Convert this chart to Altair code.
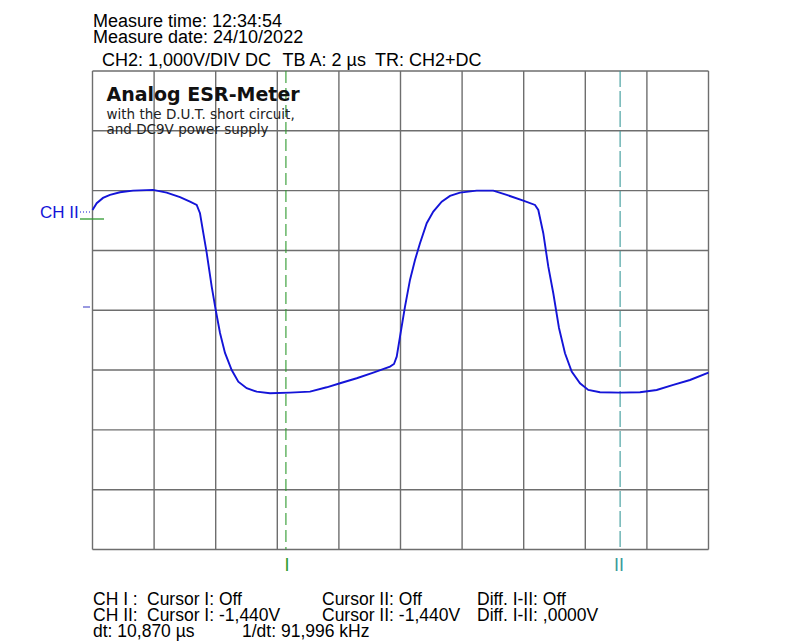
import altair as alt
import pandas as pd

# ---- data (time in µs, voltage in V; 2 µs/div, 1 V/div) ----
trace_t = [0.0, 0.136, 0.341, 0.568, 0.893, 1.315, 1.964, 2.409, 2.841, 3.166, 3.383, 3.490,
           3.597, 3.708, 3.870, 4.000, 4.140, 4.302, 4.519, 4.734, 5.006, 5.331, 5.763, 6.412,
           7.062, 7.604, 8.036, 8.578, 9.117, 9.659, 9.789, 9.877, 9.984, 10.146, 10.308, 10.471,
           10.633, 10.851, 11.065, 11.338, 11.607, 11.932, 12.474, 13.013, 13.448, 13.987, 14.367,
           14.474, 14.636, 14.799, 14.961, 15.146, 15.341, 15.558, 15.828, 16.097, 16.477, 17.127,
           17.776, 18.318, 18.857, 19.399, 20.0]
trace_v = [1.677, 1.789, 1.878, 1.928, 1.973, 2.000, 2.012, 1.967, 1.890, 1.816, 1.761, 1.622,
           1.293, 0.958, 0.395, 0.005, -0.380, -0.714, -0.999, -1.194, -1.304, -1.361, -1.388, -1.378,
           -1.361, -1.288, -1.221, -1.137, -1.043, -0.943, -0.898, -0.776, -0.441, 0.060, 0.507, 0.841,
           1.120, 1.455, 1.649, 1.816, 1.911, 1.967, 2.000, 2.000, 1.928, 1.833, 1.761,
           1.677, 1.288, 0.729, 0.284, -0.296, -0.719, -1.027, -1.221, -1.333, -1.371, -1.378,
           -1.371, -1.333, -1.249, -1.166, -1.043]

grid_x = [0, 2, 4, 6, 8, 10, 12, 14, 16, 18, 20]
grid_y = [-4, -3, -2, -1, 0, 1, 2, 3, 4]
cursor_t = [6.28, 17.13]
cursor_names = ["I", "II"]

header_lines = ["Measure time: 12:34:54", "Measure date: 24/10/2022"]
settings = ["CH2: 1,000V/DIV DC", "TB A: 2 µs", "TR: CH2+DC"]
title_lines = ["Analog ESR-Meter", "with the D.U.T. short circuit,", "and DC9V power supply"]
footer_rows = [
    ["CH I :", "Cursor I: Off", "Cursor II: Off", "Diff. I-II: Off"],
    ["CH II:", "Cursor I: -1,440V", "Cursor II: -1,440V", "Diff. I-II: ,0000V"],
]
footer_last = ["dt: 10,870 µs", "1/dt: 91,996 kHz"]

# ---- styling ----
GRID = "#6e6e6e"
BLUE = "#1414d8"
GREEN = "#2f9a2f"
TEAL = "#3a9a9a"
SANS = "Liberation Sans"

xs = alt.Scale(domain=[0, 20], nice=False, zero=False)
ys = alt.Scale(domain=[-4, 4], nice=False, zero=False)

df_trace = pd.DataFrame({"t": trace_t, "v": trace_v})
one = pd.DataFrame({"k": [0]})

gx = alt.Chart(pd.DataFrame({"gx": grid_x})).mark_rule(color=GRID, strokeWidth=1.4).encode(
    x=alt.X("gx:Q", scale=xs, axis=None))
gy = alt.Chart(pd.DataFrame({"gy": grid_y})).mark_rule(color=GRID, strokeWidth=1.4).encode(
    y=alt.Y("gy:Q", scale=ys, axis=None))

cur1 = alt.Chart(pd.DataFrame({"c": [cursor_t[0]]})).mark_rule(
    color=GREEN, strokeWidth=1.1, strokeDash=[12, 5]).encode(x=alt.X("c:Q", scale=xs, axis=None))
cur2 = alt.Chart(pd.DataFrame({"c": [cursor_t[1]]})).mark_rule(
    color=TEAL, strokeWidth=1.1, strokeDash=[16, 4]).encode(x=alt.X("c:Q", scale=xs, axis=None))

trace = alt.Chart(df_trace).mark_line(color=BLUE, strokeWidth=1.9, interpolate="linear").encode(
    x=alt.X("t:Q", scale=xs, axis=None),
    y=alt.Y("v:Q", scale=ys, axis=None),
)


def label(txt, x, y, size=18, color="black", font=SANS, weight="normal",
          align="left", baseline="alphabetic"):
    return alt.Chart(one).mark_text(
        text=txt, fontSize=size, font=font, fontWeight=weight, color=color,
        align=align, baseline=baseline).encode(x=alt.value(x), y=alt.value(y))


texts = []
# header
texts.append(label(header_lines[0], 0.5, -44))
texts.append(label(header_lines[1], 0.5, -28))
for s, x in zip(settings, [9.5, 190, 282.5]):
    texts.append(label(s, x, -5.5))
# title block
texts.append(label(title_lines[0], 14, 29.5, size=19, font="DejaVu Sans", weight="bold", color="#111111"))
texts.append(label(title_lines[1], 14, 47.5, size=13.5, font="DejaVu Sans", color="#222222"))
texts.append(label(title_lines[2], 14, 63, size=13.5, font="DejaVu Sans", color="#222222"))
# channel label & markers
texts.append(label("CH II", -52.5, 142, size=17, color=BLUE, baseline="middle"))
marks = [
    alt.Chart(one).mark_rule(color=BLUE, strokeWidth=1, strokeDash=[1, 2]).encode(
        x=alt.value(-12.5), x2=alt.value(-0.5), y=alt.value(141)),
    alt.Chart(one).mark_rule(color=GREEN, strokeWidth=1.3).encode(
        x=alt.value(-12.5), x2=alt.value(11.5), y=alt.value(148)),
    alt.Chart(one).mark_rule(color="#5555cc", strokeWidth=1.2).encode(
        x=alt.value(-9.5), x2=alt.value(-2.5), y=alt.value(236)),
]
# cursor labels
texts.append(label(cursor_names[0], 194.5, 500, color=GREEN, align="center"))
texts.append(label(cursor_names[1], 526.5, 500, color=TEAL, align="center"))
# footer
col_x = [0.5, 54.5, 229.5, 384.5]
for row, yb in zip(footer_rows, [534, 550]):
    for s, x in zip(row, col_x):
        texts.append(label(s, x, yb, size=17.5))
for s, x in zip(footer_last, [0.5, 149.5]):
    texts.append(label(s, x, 565.5, size=17.5))

chart = alt.layer(gx, gy, cur1, cur2, trace, *marks, *texts).properties(
    width=616, height=478.5,
    autosize=alt.AutoSizeParams(type="none"),
    padding={"left": 84.5, "top": 63, "right": 83, "bottom": 93},
    background="white",
).configure_view(stroke=None)

chart.save("out.html", embed_options={"renderer": "svg", "actions": False})
